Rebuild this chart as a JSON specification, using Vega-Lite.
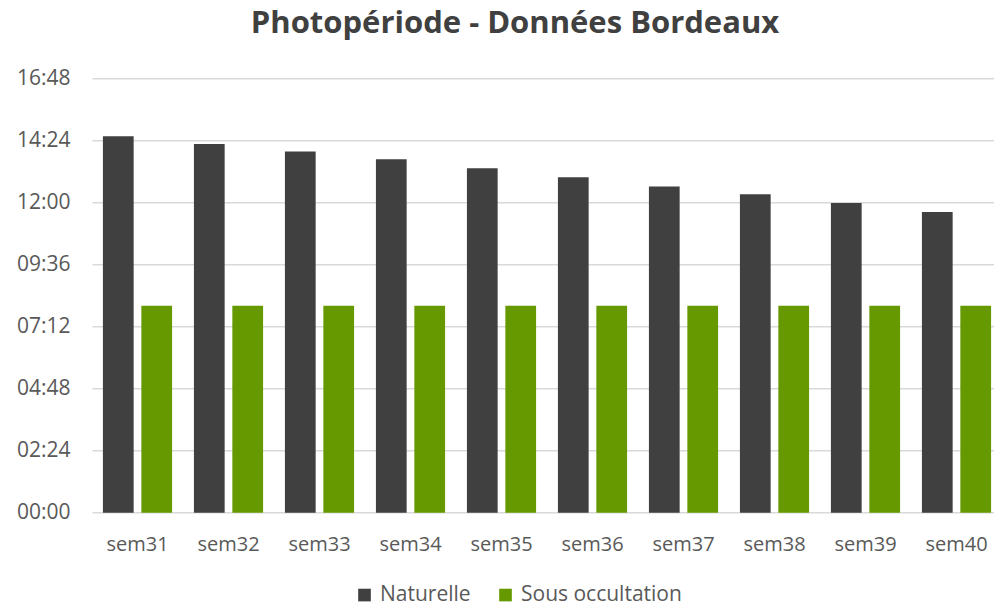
{
  "$schema": "https://vega.github.io/schema/vega-lite/v6.json",
  "width": 910,
  "height": 434.4,
  "autosize": {"type": "none"},
  "padding": {"left": 92, "top": 78.3, "right": 0, "bottom": 93.3},
  "background": "white",
  "title": {
    "text": "Photopériode - Données Bordeaux",
    "font": "Open Sans",
    "fontSize": 31,
    "fontWeight": "bold",
    "color": "#404040",
    "anchor": "middle",
    "frame": "group",
    "dx": -32,
    "offset": 27
  },
  "data": {
    "values": [
      {"semaine": "sem31", "serie": "Naturelle", "heures": 14.56},
      {"semaine": "sem31", "serie": "Sous occultation", "heures": 8.0},
      {"semaine": "sem32", "serie": "Naturelle", "heures": 14.26},
      {"semaine": "sem32", "serie": "Sous occultation", "heures": 8.0},
      {"semaine": "sem33", "serie": "Naturelle", "heures": 13.97},
      {"semaine": "sem33", "serie": "Sous occultation", "heures": 8.0},
      {"semaine": "sem34", "serie": "Naturelle", "heures": 13.67},
      {"semaine": "sem34", "serie": "Sous occultation", "heures": 8.0},
      {"semaine": "sem35", "serie": "Naturelle", "heures": 13.32},
      {"semaine": "sem35", "serie": "Sous occultation", "heures": 8.0},
      {"semaine": "sem36", "serie": "Naturelle", "heures": 12.97},
      {"semaine": "sem36", "serie": "Sous occultation", "heures": 8.0},
      {"semaine": "sem37", "serie": "Naturelle", "heures": 12.62},
      {"semaine": "sem37", "serie": "Sous occultation", "heures": 8.0},
      {"semaine": "sem38", "serie": "Naturelle", "heures": 12.32},
      {"semaine": "sem38", "serie": "Sous occultation", "heures": 8.0},
      {"semaine": "sem39", "serie": "Naturelle", "heures": 11.98},
      {"semaine": "sem39", "serie": "Sous occultation", "heures": 8.0},
      {"semaine": "sem40", "serie": "Naturelle", "heures": 11.63},
      {"semaine": "sem40", "serie": "Sous occultation", "heures": 8.0}
    ]
  },
  "mark": {"type": "bar"},
  "encoding": {
    "x": {
      "field": "semaine",
      "type": "nominal",
      "sort": null,
      "scale": {"paddingInner": 0.24, "paddingOuter": 0.12},
      "axis": {
        "title": null,
        "labelAngle": 0,
        "ticks": false,
        "domain": false,
        "labelPadding": 22,
        "labelFont": "Open Sans",
        "labelFontSize": 20,
        "labelColor": "#595959",
        "grid": false
      }
    },
    "xOffset": {
      "field": "serie",
      "type": "nominal",
      "scale": {"paddingInner": 0.2, "paddingOuter": 0}
    },
    "y": {
      "field": "heures",
      "type": "quantitative",
      "scale": {"domain": [0, 16.8], "nice": false},
      "axis": {
        "title": null,
        "values": [0, 2.4, 4.8, 7.2, 9.6, 12, 14.4, 16.8],
        "labelExpr": "utcFormat(round(datum.value*60)*60000, '%H:%M')",
        "ticks": false,
        "domain": false,
        "labelPadding": 22,
        "labelFont": "Open Sans",
        "labelFontSize": 21,
        "labelColor": "#595959",
        "gridColor": "#d9d9d9",
        "gridWidth": 1.5
      }
    },
    "color": {
      "field": "serie",
      "type": "nominal",
      "scale": {"domain": ["Naturelle", "Sous occultation"], "range": ["#404040", "#669900"]},
      "legend": {
        "title": null,
        "orient": "none",
        "direction": "horizontal",
        "legendX": 262,
        "legendY": 506,
        "symbolType": "square",
        "symbolSize": 160,
        "symbolStrokeWidth": 0,
        "labelFont": "Open Sans",
        "labelFontSize": 21,
        "labelColor": "#595959",
        "labelOffset": 5,
        "labelLimit": 400,
        "columnPadding": 24
      }
    }
  },
  "config": {"view": {"stroke": null}}
}
